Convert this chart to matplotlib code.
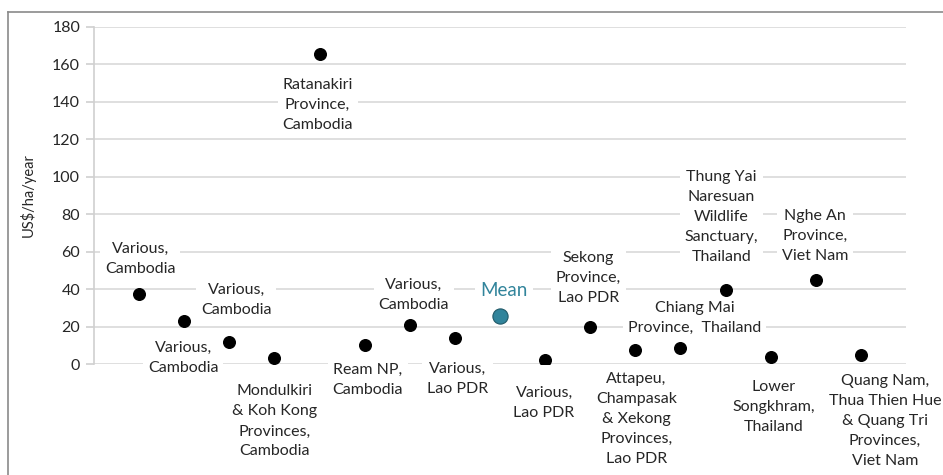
import matplotlib
matplotlib.use("Agg")
import matplotlib.pyplot as plt
from matplotlib.lines import Line2D

plt.rcParams['font.family'] = ['Lato', 'DejaVu Sans']

positions = list(range(1, 18))
values = [37.3, 22.9, 11.6, 3.0, 165.7, 10.2, 20.9, 13.8, 25.9, 2.1, 20.0, 7.5, 8.4, 39.6, 3.9, 45.0, 4.8]
labels = [
    "Various,\nCambodia",
    "Various,\nCambodia",
    "Various,\nCambodia",
    "Mondulkiri\n& Koh Kong\nProvinces,\nCambodia",
    "Ratanakiri\nProvince,\nCambodia",
    "Ream NP,\nCambodia",
    "Various,\nCambodia",
    "Various,\nLao PDR",
    "Mean",
    "Various,\nLao PDR",
    "Sekong\nProvince,\nLao PDR",
    "Attapeu,\nChampasak\n& Xekong\nProvinces,\nLao PDR",
    "Chiang Mai\nProvince,  Thailand",
    "Thung Yai\nNaresuan\nWildlife\nSanctuary,\nThailand",
    "Lower\nSongkhram,\nThailand",
    "Nghe An\nProvince,\nViet Nam",
    "Quang Nam,\nThua Thien Hue\n& Quang Tri\nProvinces,\nViet Nam",
]
mean_index = 8
y_ticks = [0, 20, 40, 60, 80, 100, 120, 140, 160, 180]

# label offsets in pixels (style)
offsets = [(1, 35), (-1, -37), (7, 42), (0, -63), (-2, -51), (3, -35), (4, 30), (3, -41),
           (4, 25), (-1, -43), (-2, 49), (1, -69), (14, 30), (-4, 73), (3, -50), (-1, 44), (24, -66)]

W, H = 943, 475
fig = plt.figure(figsize=(W / 100, H / 100), dpi=100)
fig.patch.set_facecolor('white')

# outer frame lines (top and left)
fig.add_artist(Line2D([8 / W, 1], [1 - 12 / H, 1 - 12 / H], transform=fig.transFigure, color='#8a8a8a', lw=1.2))
fig.add_artist(Line2D([8 / W, 8 / W], [0, 1 - 12 / H], transform=fig.transFigure, color='#8a8a8a', lw=1.2))

ax = fig.add_axes([94 / W, 1 - 364 / H, (906 - 94) / W, (364 - 27) / H])
ax.set_xlim(0, 18)
ax.set_ylim(0, 180)
ax.set_yticks(y_ticks)
ax.set_xticks([])
for s in ['top', 'right', 'bottom']:
    ax.spines[s].set_visible(False)
ax.spines['left'].set_color('#d0d0d0')
ax.spines['left'].set_linewidth(1.2)
ax.yaxis.grid(True, color='#d9d9d9', lw=1.2)
ax.set_axisbelow(True)
ax.tick_params(axis='y', length=6, color='#d0d0d0', width=1.2, labelsize=11.5, labelcolor='#262626', pad=4)
ax.set_ylabel("US$/ha/year", fontsize=10.5, color='#262626', labelpad=12)

for i, (x, v) in enumerate(zip(positions, values)):
    if i == mean_index:
        ax.scatter([x], [v], s=120, color='#31849B', edgecolor='#215968', lw=0.8, zorder=4)
        col = '#31849B'
        fs = 13.5
    else:
        ax.scatter([x], [v], s=70, color='black', zorder=4)
        col = '#262626'
        fs = 11.5
    dx, dy = offsets[i]
    ax.annotate(labels[i], (x, v), xytext=(dx, dy), textcoords='offset pixels',
                ha='center', va='center', fontsize=fs, color=col, linespacing=1.55,
                bbox=dict(boxstyle='square,pad=0.3', fc='white', ec='none'), zorder=3,
                annotation_clip=False)

fig.savefig('out.png', dpi=100)
